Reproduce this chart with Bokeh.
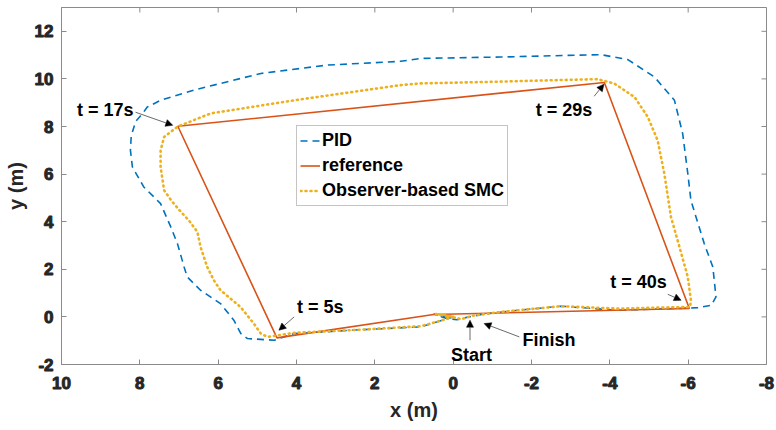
import math
from bokeh.plotting import figure
from bokeh.models import Range1d, FixedTicker, Arrow, NormalHead, Label
from bokeh.embed import file_html
from bokeh.resources import INLINE

# ---------------- data ----------------
ref_x = [0.5, 4.5, 7.03, -3.86, -6.03, 0.5]
ref_y = [0.1, -0.88, 8.01, 9.85, 0.35, 0.1]

pid_x = [0.0, 0.3, 0.83, 2.5, 4.06, 4.57, 5.25, 5.42, 5.6, 5.94, 6.45, 6.79, 6.87, 7.04, 7.21,
         7.47, 7.9, 8.19, 8.24, 8.22, 8.11, 7.9, 7.81, 7.47, 6.62, 4.91, 3.21, 1.34, 0.83,
         -1.22, -3.77, -4.46, -5.14, -5.65, -5.86, -5.99, -6.07, -6.2, -6.41, -6.63, -6.71,
         -6.59, -6.25, -5.99, -4.2, -2.75, -1.65, -0.79, -0.4, -0.1, 0.2, 0.5, 0.3, 0.0]
pid_y = [0.0, -0.15, -0.42, -0.55, -0.7, -0.98, -0.91, -0.7, -0.14, 0.56, 1.12, 1.68, 2.1,
         3.08, 3.78, 4.76, 5.46, 6.3, 7.0, 7.6, 8.2, 8.61, 8.82, 9.1, 9.53, 10.23, 10.58,
         10.74, 10.86, 10.92, 11.02, 10.81, 10.08, 9.1, 7.7, 6.03, 4.9, 4.2, 3.08, 2.1,
         0.84, 0.49, 0.39, 0.37, 0.28, 0.45, 0.28, 0.12, 0.0, -0.12, -0.05, 0.12, 0.05, 0.0]

smc_x = [0.0, 0.4, 0.83, 2.5, 4.06, 4.74, 4.91, 5.09, 5.43, 5.94, 6.11, 6.28, 6.45, 6.53,
         6.75, 7.0, 7.2, 7.38, 7.47, 7.47, 7.38, 7.03, 6.19, 4.06, 1.34, 0.83, -0.79,
         -3.69, -4.11, -4.63, -4.97, -5.22, -5.39, -5.56, -5.73, -5.99, -6.07, -6.05, -4.2,
         -2.75, -1.22, -0.5, -0.2, 0.2, 0.45, 0.0]
smc_y = [0.0, -0.2, -0.39, -0.55, -0.67, -0.84, -0.7, -0.28, 0.42, 1.12, 1.54, 2.1, 2.94,
         3.57, 4.06, 4.5, 4.9, 5.32, 6.3, 7.0, 7.56, 8.0, 8.55, 9.1, 9.74, 9.81, 9.87,
         9.99, 9.81, 9.24, 8.4, 7.42, 6.03, 4.2, 3.22, 1.68, 0.7, 0.42, 0.35, 0.45, 0.21,
         0.05, -0.1, 0.08, 0.12, 0.0]

x_ticks = [10, 8, 6, 4, 2, 0, -2, -4, -6, -8]
y_ticks = [-2, 0, 2, 4, 6, 8, 10, 12]
x_title = "x (m)"
y_title = "y (m)"

# annotations: text, text x, text y, align, arrow start x, y, arrow end x, y
ann_text = ["t = 17s", "t = 29s", "t = 5s", "t = 40s", "Start", "Finish"]
ann_tx = [8.16, -2.83, 3.99, -4.73, -0.47, -1.77]
ann_ty = [8.68, 8.68, 0.42, 1.47, -1.61, -0.98]
ann_align = ["right", "center", "left", "center", "center", "left"]
arr_x0 = [8.11, -3.6, 4.06, -5.48, -0.43, -1.69]
arr_y0 = [8.6, 9.27, 0.0, 0.95, -0.98, -0.84]
arr_x1 = [7.16, -3.85, 4.45, -5.82, -0.43, -0.79]
arr_y1 = [8.05, 9.78, -0.56, 0.7, -0.14, -0.28]

FONT = "Liberation Sans"
GRAY = "#8a8a8a"
TXT = "#262626"

xr = Range1d(10, -8)
yr = Range1d(-2, 13)
p = figure(width=776, height=430, output_backend="svg", toolbar_location=None,
           x_range=xr, y_range=yr,
           min_border_left=61, min_border_right=10, min_border_top=7, min_border_bottom=66)
p.grid.visible = False
p.outline_line_color = GRAY
p.outline_line_width = 1
p.background_fill_color = "white"

p.line(pid_x, pid_y, line_color="#0072BD", line_width=1.6, line_dash="7 5", legend_label="PID")
p.line(ref_x, ref_y, line_color="#D95319", line_width=1.6, legend_label="reference")
p.line(smc_x, smc_y, line_color="#EDB120", line_width=2.6, line_dash="1 4", line_cap="round",
       legend_label="Observer-based SMC")

# mirrored inward ticks on top and right edges (half of each dash is clipped by the frame)
p.scatter(x_ticks, [yr.end] * len(x_ticks), marker="dash", size=10, angle=math.pi / 2,
          line_color=GRAY, line_width=1)
p.scatter([xr.end] * len(y_ticks), y_ticks, marker="dash", size=10,
          line_color=GRAY, line_width=1)

p.xaxis.ticker = FixedTicker(ticks=x_ticks)
p.yaxis.ticker = FixedTicker(ticks=y_ticks)
p.xaxis.major_label_overrides = {t: str(t) for t in x_ticks}
p.yaxis.major_label_overrides = {t: str(t) for t in y_ticks}
for ax in (p.xaxis[0], p.yaxis[0]):
    ax.major_tick_in = 5
    ax.major_tick_out = 0
    ax.minor_tick_line_color = None
    ax.major_tick_line_color = GRAY
    ax.axis_line_color = GRAY
    ax.major_label_text_font = FONT
    ax.major_label_text_font_style = "bold"
    ax.major_label_text_font_size = "17px"
    ax.major_label_text_color = TXT
    try:
        ax.major_label_text_outline_color = TXT
    except AttributeError:
        pass
    ax.axis_label_text_font = FONT
    ax.axis_label_text_font_style = "bold"
    ax.axis_label_text_font_size = "20px"
    ax.axis_label_text_color = TXT

p.xaxis.axis_label = x_title
p.yaxis.axis_label = y_title
p.xaxis.major_label_standoff = 12
p.xaxis.axis_label_standoff = 7
p.yaxis.major_label_standoff = 8
p.yaxis.axis_label_standoff = 5

for t, tx, ty, al, x0, y0, x1, y1 in zip(ann_text, ann_tx, ann_ty, ann_align,
                                         arr_x0, arr_y0, arr_x1, arr_y1):
    p.add_layout(Arrow(end=NormalHead(size=7, fill_color="black", line_color="black", line_width=0.5),
                       x_start=x0, y_start=y0, x_end=x1, y_end=y1,
                       line_color="#444444", line_width=0.8))
    p.add_layout(Label(x=tx, y=ty, text=t, text_font=FONT, text_font_style="bold",
                       text_font_size="18px", text_color="black", text_align=al,
                       text_baseline="middle"))

lg = p.legend[0]
lg.location = (235, 158)
lg.label_text_font = FONT
lg.label_text_font_style = "bold"
lg.label_text_font_size = "18px"
lg.label_text_color = "black"
lg.glyph_width = 20
lg.glyph_height = 23
lg.label_height = 23
lg.label_standoff = 2
lg.spacing = 2
lg.padding = 3
lg.margin = 0
lg.border_line_color = GRAY
lg.border_line_width = 1
lg.background_fill_alpha = 1

open("out.html", "w").write(file_html(p, INLINE))
